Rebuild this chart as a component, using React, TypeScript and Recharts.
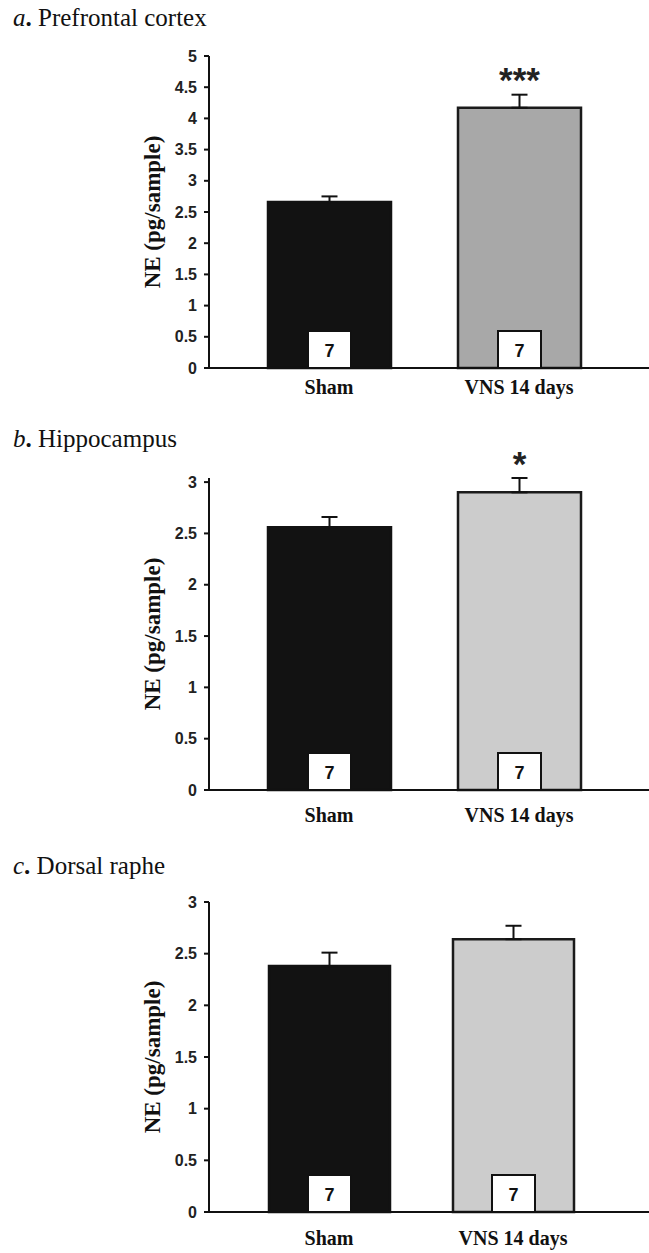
import React from 'react';
import { BarChart, Bar, XAxis, YAxis, ErrorBar, LabelList, Label, Cell } from 'recharts';

const groups = ['Sham', 'VNS 14 days'];
const nPerGroup = [7, 7];

// a. Prefrontal cortex
const pfcMean = [2.66, 4.17];
const pfcSem = [0.09, 0.21];
const pfcSig = ['', '***'];

// b. Hippocampus
const hipMean = [2.56, 2.9];
const hipSem = [0.1, 0.14];
const hipSig = ['', '*'];

// c. Dorsal raphe
const drMean = [2.38, 2.64];
const drSem = [0.13, 0.13];
const drSig = ['', ''];

const ticks5 = [0, 0.5, 1, 1.5, 2, 2.5, 3, 3.5, 4, 4.5, 5];
const ticks3 = [0, 0.5, 1, 1.5, 2, 2.5, 3];

const makeRows = (mean: number[], sem: number[], sig: string[]) =>
  groups.map((g, i) => ({ name: g, ne: mean[i], err: [0, sem[i]], n: nPerGroup[i], sig: sig[i] }));

const NBox = (props: any) => {
  const vb = props.viewBox ?? props;
  const { x, y, width, height } = vb;
  const bw = 43;
  const bh = 37;
  const cx = x + width / 2;
  const bottom = y + height;
  return (
    <g>
      <rect x={cx - bw / 2} y={bottom - bh} width={bw} height={bh} fill="#fff" stroke="#111" strokeWidth={2} />
      <text x={cx} y={bottom - bh / 2 + 1} textAnchor="middle" dominantBaseline="central"
        fontSize={18} fontWeight="bold" fontFamily="Liberation Sans" fill="#111">
        {props.value}
      </text>
    </g>
  );
};

const YTitle = (props: any) => {
  const vb = props.viewBox;
  const cy = vb.y + vb.height / 2;
  return (
    <text x={152} y={cy} transform={`rotate(-90 152 ${cy})`} textAnchor="middle" dominantBaseline="central"
      fontSize={23} fontWeight="bold" fontFamily="Liberation Serif" fill="#111">
      NE (pg/sample)
    </text>
  );
};

type PanelProps = {
  letter: string;
  title: string;
  titleTop: number;
  rows: any[];
  ticks: number[];
  top: number;
  plotH: number;
  vnsFill: string;
  pad: { left: number; right: number };
  barSize: number;
  labelGap: number;
};

const Panel = ({ letter, title, titleTop, rows, ticks, top, plotH, vnsFill, pad, barSize, labelGap }: PanelProps) => (
  <>
    <div style={{ position: 'absolute', left: 13, top: titleTop, fontFamily: 'Liberation Serif', fontSize: 25, lineHeight: '28px', color: '#111', whiteSpace: 'nowrap' }}>
      <i>{letter}</i><b>.</b> {title}
    </div>
    <div style={{ position: 'absolute', left: 0, top: top - 40 }}>
      <BarChart width={649} height={40 + plotH + 40} data={rows} margin={{ top: 40, right: 0, bottom: 0, left: 0 }}>
        <XAxis dataKey="name" height={40} padding={pad} tickLine={false} tickMargin={labelGap}
          axisLine={{ stroke: '#111', strokeWidth: 2 }}
          tick={{ fill: '#111', fontSize: 20, fontWeight: 'bold', fontFamily: 'Liberation Serif' }} />
        <YAxis width={209} domain={[0, ticks[ticks.length - 1]]} ticks={ticks} interval={0}
          tickSize={5} tickMargin={7}
          axisLine={{ stroke: '#111', strokeWidth: 2 }} tickLine={{ stroke: '#111', strokeWidth: 2 }}
          tick={{ fill: '#222', fontSize: 16, fontWeight: 'bold', fontFamily: 'Liberation Sans' }}>
          <Label content={YTitle} />
        </YAxis>
        <Bar dataKey="ne" barSize={barSize} isAnimationActive={false}>
          {rows.map((r, i) => (
            <Cell key={r.name} fill={i === 0 ? '#121212' : vnsFill} stroke={i === 0 ? '#121212' : '#1a1a1a'} strokeWidth={2.5} />
          ))}
          <ErrorBar dataKey="err" direction="y" width={8} stroke="#111" strokeWidth={2} />
          <LabelList dataKey="n" content={NBox} />
          <LabelList dataKey="sig" position="top" offset={16} fill="#222" fontSize={35} fontWeight="bold" fontFamily="Liberation Sans" />
        </Bar>
      </BarChart>
    </div>
  </>
);

export default function App() {
  return (
    <div style={{ position: 'absolute', left: 0, top: 0, width: 649, height: 1253, background: '#fff' }}>
      <Panel letter="a" title="Prefrontal cortex" titleTop={4} rows={makeRows(pfcMean, pfcSem, pfcSig)}
        ticks={ticks5} top={56} plotH={312} vnsFill="#a8a8a8" pad={{ left: 25, right: 35 }} barSize={123} labelGap={6} />
      <Panel letter="b" title="Hippocampus" titleTop={425} rows={makeRows(hipMean, hipSem, hipSig)}
        ticks={ticks3} top={478} plotH={312} vnsFill="#cccccc" pad={{ left: 25, right: 35 }} barSize={123} labelGap={12} />
      <Panel letter="c" title="Dorsal raphe" titleTop={852} rows={makeRows(drMean, drSem, drSig)}
        ticks={ticks3} top={902} plotH={310} vnsFill="#cccccc" pad={{ left: 28, right: 44 }} barSize={121} labelGap={13} />
    </div>
  );
}
